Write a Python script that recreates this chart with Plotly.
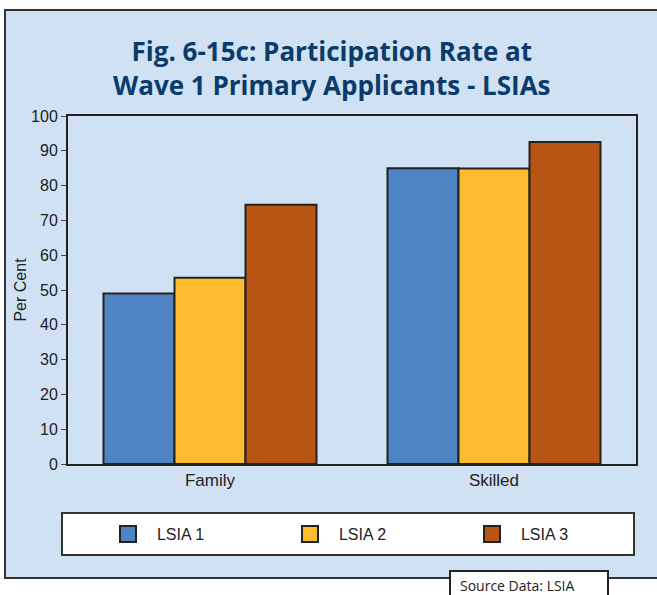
"""Participation rate chart (Fig. 6-15c)."""

import plotly.graph_objects as go

categories = ["Family", "Skilled"]
series_names = ["LSIA 1", "LSIA 2", "LSIA 3"]
lsia1 = [49, 85]
lsia2 = [53.5, 84.9]
lsia3 = [74.5, 92.5]
y_ticks = list(range(0, 101, 10))

COLORS = ["#4f84c4", "#fdbb30", "#b85515"]
EDGE = "#222222"
W, H = 657, 595
L, R, T, B = 68, 636, 116, 464  # plot area in pixels


def px_x(x):
    return (x - L) / (R - L)


def px_y(y):
    return (B - y) / (B - T)


fig = go.Figure()

legend_ids = ["legend", "legend2", "legend3"]
legend_left = [108, 290, 472]

for name, vals, col, lg in zip(series_names, [lsia1, lsia2, lsia3], COLORS, legend_ids):
    fig.add_trace(go.Bar(
        x=categories, y=vals, name=name,
        marker=dict(color=col, line=dict(color=EDGE, width=2)),
        showlegend=False,
    ))
    # legend swatch (nbsp widens the gap to the label)
    fig.add_trace(go.Scatter(
        x=[None], y=[None], mode="markers", name="\u00a0\u00a0" + name, legend=lg,
        marker=dict(symbol="square", size=16, color=col,
                    line=dict(color=EDGE, width=2)),
    ))

# outer blue panel
fig.add_shape(type="rect", xref="paper", yref="paper",
              x0=px_x(5), x1=px_x(665), y0=px_y(578), y1=px_y(10),
              fillcolor="#cfe1f2", line=dict(color="#333333", width=2),
              layer="below")
# legend box
fig.add_shape(type="rect", xref="paper", yref="paper",
              x0=px_x(62), x1=px_x(634), y0=px_y(555), y1=px_y(513),
              fillcolor="white", line=dict(color="#333333", width=2),
              layer="below")
# source box
fig.add_shape(type="rect", xref="paper", yref="paper",
              x0=px_x(450), x1=px_x(608), y0=px_y(605), y1=px_y(571),
              fillcolor="white", line=dict(color="#222222", width=2),
              layer="above")
fig.add_annotation(text="Source Data: LSIA", xref="paper", yref="paper",
                   x=px_x(458), y=px_y(585), xanchor="left", yanchor="middle",
                   showarrow=False,
                   font=dict(family="Open Sans", size=14, color="#222222"))

legend_style = {}
for lg, left in zip(legend_ids, legend_left):
    legend_style[lg] = dict(
        x=px_x(left), y=px_y(534), xanchor="left", yanchor="middle",
        bgcolor="rgba(0,0,0,0)", font=dict(size=16, color="#222222"),
        itemsizing="trace",
    )

fig.update_layout(
    width=W, height=H,
    margin=dict(l=L, r=W - R, t=T, b=H - B),
    paper_bgcolor="white",
    plot_bgcolor="#f3ecce",
    title=dict(
        text="Fig. 6-15c: Participation Rate at<br>Wave 1 Primary Applicants - LSIAs",
        x=0.505, xanchor="center", y=1 - 61 / H, yanchor="middle",
        font=dict(family="Open Sans", size=26, color="#0b3b6a", weight="bold"),
    ),
    barmode="group",
    bargap=0.25,
    bargroupgap=0,
    font=dict(family="Liberation Sans", size=16, color="#222222"),
    showlegend=True,
    **legend_style,
)

fig.update_xaxes(
    showline=True, linecolor=EDGE, linewidth=2, mirror=True,
    ticks="", tickfont=dict(size=17),
)
fig.update_yaxes(
    range=[0, 100], tickvals=y_ticks, showgrid=False, zeroline=False,
    showline=True, linecolor=EDGE, linewidth=2, mirror=True,
    ticks="outside", ticklen=5, tickcolor="#444444", tickwidth=1,
    tickfont=dict(size=16),
    title=dict(text="Per Cent", font=dict(size=16), standoff=0),
)

fig.write_html("out.html", config={"displayModeBar": False},
               post_script="document.body.style.margin='0';")
